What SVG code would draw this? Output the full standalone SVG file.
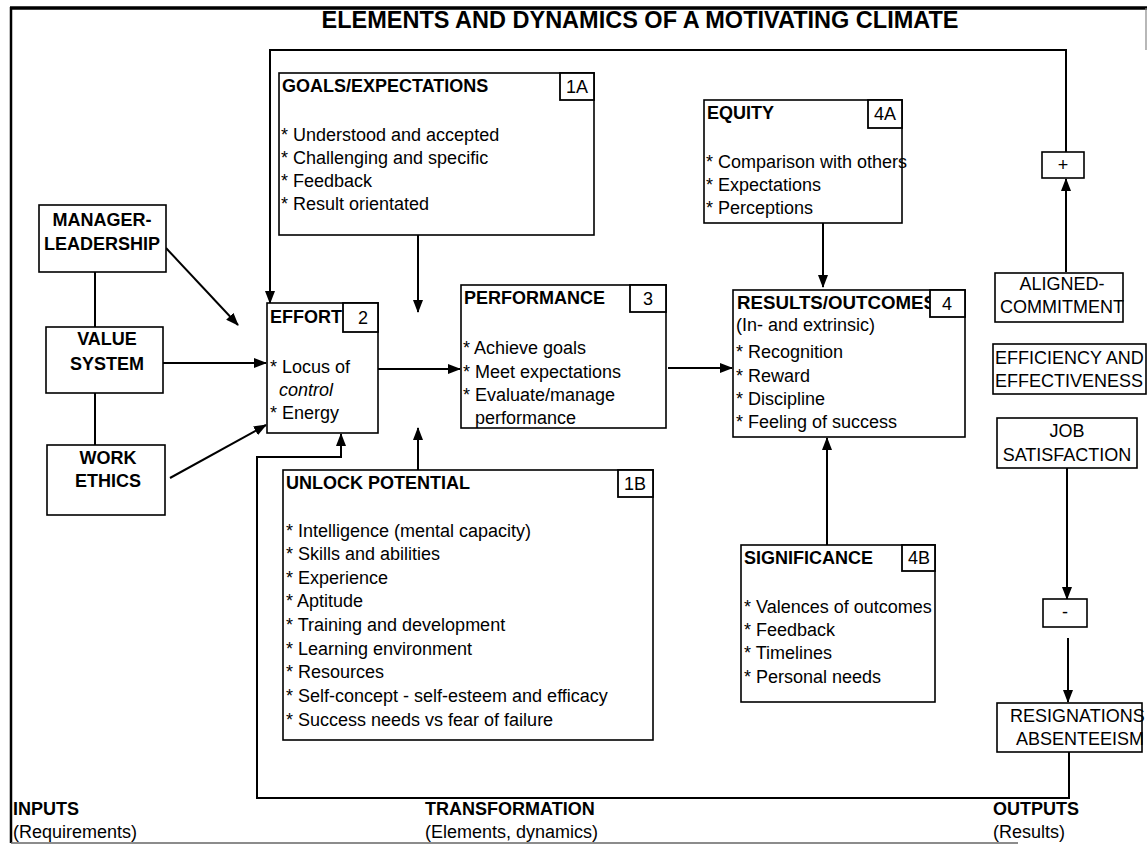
<svg xmlns="http://www.w3.org/2000/svg" width="1147" height="845" viewBox="0 0 1147 845">
<style>
text{font-family:"Liberation Sans",Arial,sans-serif;font-size:18px;fill:#000}
.b{font-weight:bold}
.t{font-weight:bold;font-size:23.5px}
.c{text-anchor:middle}
.i{font-style:italic}
.box{fill:#fff;stroke:#000;stroke-width:1.6}
.num{fill:#fff;stroke:#000;stroke-width:1.8}
.ln{fill:none;stroke:#000;stroke-width:2}
.ar{fill:none;stroke:#000;stroke-width:2;marker-end:url(#ah)}
</style>
<defs>
<marker id="ah" markerUnits="userSpaceOnUse" markerWidth="13" markerHeight="10" refX="12" refY="5" orient="auto">
<path d="M0,0 L13,5 L0,10 z" fill="#000"/>
</marker>
</defs>
<rect x="0" y="0" width="1147" height="845" fill="#fff"/>
<g id="frame">
<line x1="10" y1="8" x2="1147" y2="8" stroke="#000" stroke-width="3.5"/>
<line x1="11" y1="7" x2="11" y2="843" stroke="#000" stroke-width="2.5"/>
<line x1="11" y1="843" x2="1018" y2="843" stroke="#666" stroke-width="1.5"/>
<line x1="1146" y1="8" x2="1146" y2="50" stroke="#888" stroke-width="1.2"/>
<text class="t c" x="640" y="28">ELEMENTS AND DYNAMICS OF A MOTIVATING CLIMATE</text>
</g>
<g id="connectors">
<polyline class="ar" points="1066,152 1066,50 270,50 270,303"/>
<line class="ar" x1="1066" y1="272" x2="1066" y2="179"/>
<line class="ar" x1="1067" y1="468" x2="1067" y2="599"/>
<line class="ar" x1="1068" y1="638" x2="1068" y2="702"/>
<polyline class="ar" points="1069,752 1069,798 257,798 257,457 341,457 341,434"/>
<line class="ar" x1="418" y1="235" x2="418" y2="312"/>
<line class="ar" x1="418" y1="470" x2="418" y2="428"/>
<line class="ar" x1="378" y1="369" x2="460" y2="369"/>
<line class="ar" x1="668" y1="368" x2="732" y2="368"/>
<line class="ar" x1="823" y1="223" x2="823" y2="287"/>
<line class="ar" x1="827" y1="545" x2="827" y2="438"/>
<line class="ar" x1="166" y1="248" x2="238" y2="325"/>
<line class="ar" x1="163" y1="363" x2="266" y2="363"/>
<line class="ar" x1="170" y1="478" x2="266" y2="425"/>
<line class="ln" x1="95" y1="272" x2="95" y2="327"/>
<line class="ln" x1="95" y1="393" x2="95" y2="445"/>
</g>
<g id="goals">
<rect class="box" x="279" y="73" width="315" height="162"/>
<text class="b" x="282" y="92">GOALS/EXPECTATIONS</text>
<rect class="num" x="560" y="73" width="34" height="27"/>
<text class="c" x="577" y="93">1A</text>
<text x="281" y="141">* Understood and accepted</text>
<text x="281" y="164">* Challenging and specific</text>
<text x="281" y="187">* Feedback</text>
<text x="281" y="210">* Result orientated</text>
</g>
<g id="equity">
<rect class="box" x="704" y="100" width="198" height="123"/>
<text class="b" x="707" y="119">EQUITY</text>
<rect class="num" x="868" y="100" width="34" height="28"/>
<text class="c" x="885" y="120">4A</text>
<text x="706" y="168">* Comparison with others</text>
<text x="706" y="191">* Expectations</text>
<text x="706" y="214">* Perceptions</text>
</g>
<g id="manager">
<rect class="box" x="39" y="205" width="127" height="67"/>
<text class="b c" x="102" y="226">MANAGER-</text>
<text class="b c" x="102" y="250">LEADERSHIP</text>
</g>
<g id="value">
<rect class="box" x="46" y="327" width="117" height="66"/>
<text class="b c" x="107" y="345">VALUE</text>
<text class="b c" x="107" y="370">SYSTEM</text>
</g>
<g id="work">
<rect class="box" x="47" y="445" width="118" height="70"/>
<text class="b c" x="108" y="464">WORK</text>
<text class="b c" x="108" y="487">ETHICS</text>
</g>
<g id="effort">
<rect class="box" x="267" y="303" width="111" height="130"/>
<text class="b" x="270" y="323">EFFORT</text>
<rect class="num" x="343" y="303" width="35" height="29"/>
<text class="c" x="363" y="324">2</text>
<text x="270" y="373">* Locus of</text>
<text class="i" x="279" y="396">control</text>
<text x="270" y="419">* Energy</text>
</g>
<g id="performance">
<rect class="box" x="461" y="285" width="205" height="143"/>
<text class="b" x="464" y="304">PERFORMANCE</text>
<rect class="num" x="630" y="285" width="36" height="27"/>
<text class="c" x="648" y="305">3</text>
<text x="463" y="354">* Achieve goals</text>
<text x="463" y="378">* Meet expectations</text>
<text x="463" y="401">* Evaluate/manage</text>
<text x="475" y="424">performance</text>
</g>
<g id="results">
<rect class="box" x="733" y="290" width="232" height="147"/>
<text class="b" x="737" y="309" style="font-size:18.7px">RESULTS/OUTCOMES</text>
<rect class="num" x="930" y="290" width="35" height="27"/>
<text class="c" x="947" y="310">4</text>
<text x="736" y="331">(In- and extrinsic)</text>
<text x="736" y="358">* Recognition</text>
<text x="736" y="382">* Reward</text>
<text x="736" y="405">* Discipline</text>
<text x="736" y="428">* Feeling of success</text>
</g>
<g id="unlock">
<rect class="box" x="283" y="470" width="370" height="270"/>
<text class="b" x="286" y="489">UNLOCK POTENTIAL</text>
<rect class="num" x="618" y="470" width="35" height="27"/>
<text class="c" x="635" y="490">1B</text>
<text x="286" y="537">* Intelligence (mental capacity)</text>
<text x="286" y="560">* Skills and abilities</text>
<text x="286" y="584">* Experience</text>
<text x="286" y="607">* Aptitude</text>
<text x="286" y="631">* Training and development</text>
<text x="286" y="655">* Learning environment</text>
<text x="286" y="678">* Resources</text>
<text x="286" y="702">* Self-concept - self-esteem and efficacy</text>
<text x="286" y="726">* Success needs vs fear of failure</text>
</g>
<g id="significance">
<rect class="box" x="741" y="545" width="194" height="157"/>
<text class="b" x="744" y="564">SIGNIFICANCE</text>
<rect class="num" x="902" y="545" width="33" height="26"/>
<text class="c" x="919" y="564">4B</text>
<text x="744" y="613">* Valences of outcomes</text>
<text x="744" y="636">* Feedback</text>
<text x="744" y="659">* Timelines</text>
<text x="744" y="683">* Personal needs</text>
</g>
<g id="plus">
<rect class="box" x="1042" y="152" width="42" height="26"/>
<text class="c" x="1063" y="171">+</text>
</g>
<g id="aligned">
<rect class="box" x="995" y="273" width="128" height="49"/>
<text class="c" x="1062" y="290">ALIGNED-</text>
<text x="1000" y="313">COMMITMENT</text>
</g>
<g id="efficiency">
<rect class="box" x="993" y="344" width="153" height="50"/>
<text x="995" y="364">EFFICIENCY AND</text>
<text x="995" y="387">EFFECTIVENESS</text>
</g>
<g id="jobsat">
<rect class="box" x="997" y="418" width="140" height="50"/>
<text class="c" x="1067" y="437">JOB</text>
<text class="c" x="1067" y="461">SATISFACTION</text>
</g>
<g id="minus">
<rect class="box" x="1043" y="599" width="44" height="28"/>
<text class="c" x="1065" y="618">-</text>
</g>
<g id="resignations">
<rect class="box" x="997" y="703" width="145" height="49"/>
<text x="1010" y="722">RESIGNATIONS</text>
<text x="1016" y="745">ABSENTEEISM</text>
</g>
<g id="labels">
<text class="b" x="13" y="815">INPUTS</text>
<text x="13" y="838">(Requirements)</text>
<text class="b" x="425" y="815">TRANSFORMATION</text>
<text x="425" y="838">(Elements, dynamics)</text>
<text class="b" x="993" y="815">OUTPUTS</text>
<text x="993" y="838">(Results)</text>
</g>
</svg>
